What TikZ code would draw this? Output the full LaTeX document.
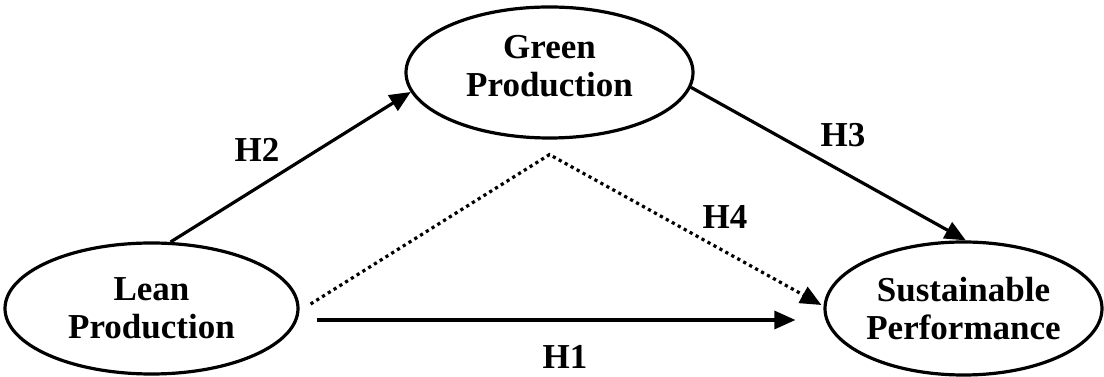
\documentclass[tikz,border=0pt]{standalone}
\usepackage{fontspec}
\setmainfont{Liberation Serif}
\usetikzlibrary{arrows.meta,shapes.geometric}

\tikzset{
	construct/.style={shape=ellipse, draw, line width=3.2pt, inner sep=0pt, align=center, font=\bfseries\fontsize{35}{38}\selectfont},
	hyp/.style={font=\bfseries\fontsize{35}{38}\selectfont},
	path arrow/.style={-{Triangle[length=21pt,width=18pt]}, line width=3.2pt},
	indirect/.style={path arrow, dash pattern=on 3.2pt off 3.6pt},
}

\begin{document}
\begin{tikzpicture}[x=1pt,y=1pt]
	\useasboundingbox (0,0) rectangle (1104,377);
	
	\node[construct, minimum width=293pt, minimum height=131pt] (lean) at (151.5,68.5) {Lean\\Production};
	\node[construct, minimum width=287pt, minimum height=131pt] (green) at (549.5,304.5) {Green\\Production\rule[-14pt]{0pt}{0pt}};
	\node[construct, minimum width=277pt, minimum height=133pt] (sust) at (963.5,68.5) {Sustainable\\Performance};
	
	\node[hyp] (h1) at (565,20) {H1};
	\node[hyp] (h2) at (257,227) {H2};
	\node[hyp] (h3) at (843,242) {H3};
	\node[hyp] (h4) at (725,160) {H4};
	
	\draw [path arrow] (lean.74) -- (green.188);
	\draw [path arrow] (green.354) -- (sust.88);
	\draw [path arrow] ([xshift=17pt,yshift=-11.5pt]lean.east) -- ([xshift=-28pt,yshift=-11.5pt]sust.west);
	\draw [indirect] ([xshift=11pt,yshift=4.5pt]lean.east) -- ([yshift=-15pt]green.south) -- ([xshift=-2pt,yshift=3.5pt]sust.west);
\end{tikzpicture}
\end{document}
